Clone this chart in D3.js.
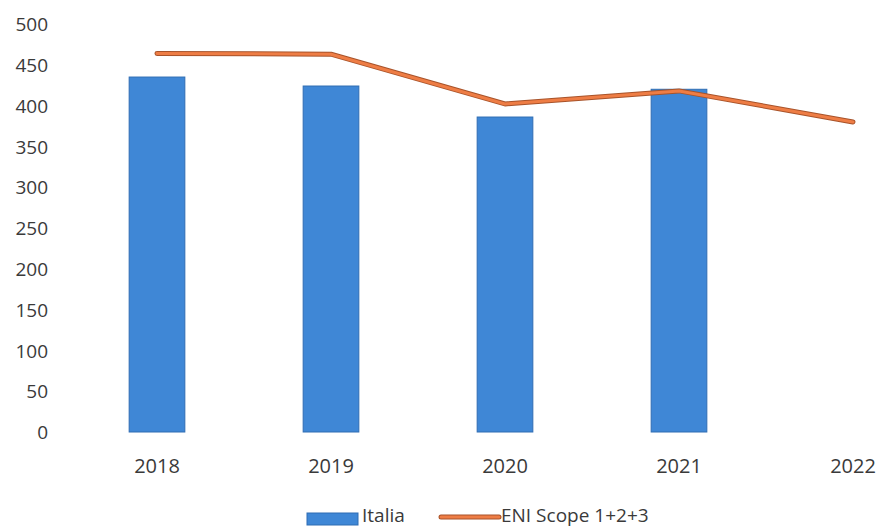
<!DOCTYPE html>
<html>
<head>
<meta charset="utf-8">
<script src="https://cdn.jsdelivr.net/npm/d3@7"></script>
<style>
  html, body { margin: 0; padding: 0; background: #fff; }
  svg { display: block; }
  text { font-family: "Open Sans", "DejaVu Sans", sans-serif; fill: #3a3a3a; }
</style>
</head>
<body>
<svg id="chart" width="878" height="528"></svg>
<script>
// Emissions by year
const years = ["2018", "2019", "2020", "2021", "2022"];
const italia = [435, 424, 386, 420, null];
const eniScope = [464, 463, 402, 418, 380];
const yTicks = [0, 50, 100, 150, 200, 250, 300, 350, 400, 450, 500];

const svg = d3.select("#chart");

const x = d3.scaleBand().domain(years).range([70, 940]).paddingInner(0.68).paddingOuter(0.34);
const xc = d => x(d) + x.bandwidth() / 2;
const y = d3.scaleLinear().domain([0, 500]).range([432, 24]);

// Y axis labels
const yAxis = d3.axisLeft(y).tickValues(yTicks).tickSize(0).tickPadding(0);
svg.append("g").attr("transform", "translate(48,0)").call(yAxis)
  .call(g => g.select(".domain").remove())
  .call(g => g.selectAll("text").attr("font-size", 19).attr("dy", "0.35em")
    .style("font-family", "'Open Sans', sans-serif").attr("fill", "#3a3a3a"));

// X axis labels
const xAxis = d3.axisBottom(x).tickSize(0).tickPadding(0);
svg.append("g").attr("transform", "translate(0,458)").call(xAxis)
  .call(g => g.select(".domain").remove())
  .call(g => g.selectAll("text").attr("font-size", 20).attr("dy", "0.75em")
    .style("font-family", "'Open Sans', sans-serif").attr("fill", "#3a3a3a"));

// Bars (Italia)
svg.append("g").selectAll("rect")
  .data(years.map((yr, i) => ({ yr, v: italia[i] })).filter(d => d.v != null))
  .join("rect")
  .attr("x", d => x(d.yr))
  .attr("y", d => y(d.v))
  .attr("width", x.bandwidth())
  .attr("height", d => y(0) - y(d.v))
  .attr("fill", "#3f87d6")
  .attr("stroke", "#2f6db3")
  .attr("stroke-width", 1);

// Line (ENI Scope 1+2+3)
const line = d3.line().x((d, i) => xc(years[i])).y(d => y(d));
svg.append("path").datum(eniScope).attr("d", line)
  .attr("fill", "none").attr("stroke", "#a8532a").attr("stroke-width", 5)
  .attr("stroke-linejoin", "round").attr("stroke-linecap", "round");
svg.append("path").datum(eniScope).attr("d", line)
  .attr("fill", "none").attr("stroke", "#ee7d45").attr("stroke-width", 3)
  .attr("stroke-linejoin", "round").attr("stroke-linecap", "round");

// Legend
const lg = svg.append("g");
lg.append("rect").attr("x", 307).attr("y", 513).attr("width", 51).attr("height", 12)
  .attr("fill", "#3f87d6").attr("stroke", "#2f6db3");
lg.append("text").attr("x", 362).attr("y", 522).attr("font-size", 19).text("Italia");
lg.append("line").attr("x1", 441).attr("x2", 499).attr("y1", 517).attr("y2", 517)
  .attr("stroke", "#a8532a").attr("stroke-width", 5).attr("stroke-linecap", "round");
lg.append("line").attr("x1", 441).attr("x2", 499).attr("y1", 517).attr("y2", 517)
  .attr("stroke", "#ee7d45").attr("stroke-width", 3).attr("stroke-linecap", "round");
lg.append("text").attr("x", 501).attr("y", 522).attr("font-size", 19).text("ENI Scope 1+2+3");
</script>
</body>
</html>
